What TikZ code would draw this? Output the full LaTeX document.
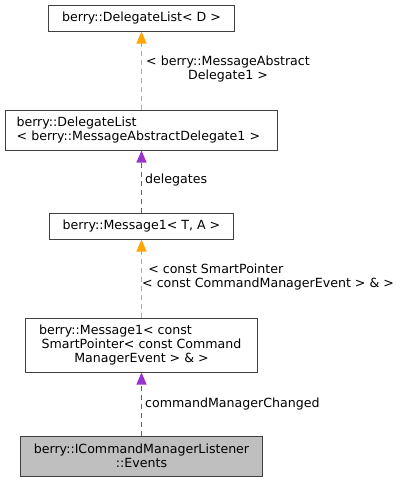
\documentclass[tikz,border=0pt]{standalone}
\usepackage{fontspec}
\setmainfont{DejaVu Sans}
\usetikzlibrary{arrows.meta}
\definecolor{edgeorange}{HTML}{FFA500}
\definecolor{edgepurple}{HTML}{9A32CD}
\definecolor{boxgray}{HTML}{BFBFBF}
\begin{document}
\begin{tikzpicture}[x=1pt, y=-1pt, >={Triangle[length=12pt,width=10pt]},
    font=\fontsize{12.6}{14}\selectfont,
    cls/.style={draw=black!75, line width=1pt, fill=white, inner sep=0pt},
    tmpl/.style={color=edgeorange, dash pattern=on 5pt off 4pt, line width=1.1pt},
    usage/.style={color=edgepurple, dash pattern=on 5pt off 4pt, line width=1.1pt}]
    \useasboundingbox (0,0) rectangle (407,483);
    % class boxes
    \node[cls, minimum width=186pt, minimum height=26pt] (dlD) at (141.5,18) {berry::DelegateList< D >};
    \node[cls, minimum width=272pt, minimum height=40pt, align=left, text width=250pt] (dlM) at (141.5,130)
        {berry::DelegateList\\< berry::MessageAbstractDelegate1 >};
    \node[cls, minimum width=184pt, minimum height=26pt] (msgTA) at (141.5,226) {berry::Message1< T, A >};
    \node[cls, minimum width=232pt, minimum height=54pt, align=center] (msgSP) at (141.5,345)
        {\makebox[205pt][l]{berry::Message1< const}\\SmartPointer< const Command\\ManagerEvent > \& >};
    \node[cls, fill=boxgray, minimum width=242pt, minimum height=40pt, align=center] (events) at (141.5,456)
        {berry::ICommandManagerListener\\::Events};
    % edges
    \draw[tmpl, ->] (dlM.north) -- (dlD.south);
    \draw[usage, ->] (msgTA.north) -- (dlM.south);
    \draw[tmpl, ->] (msgSP.north) -- (msgTA.south);
    \draw[usage, ->] (events.north) -- (msgSP.south);
    % edge labels
    \node[anchor=west, align=center, inner sep=0pt] (lblD) at (146,69) {< berry::MessageAbstract\\Delegate1 >};
    \node[anchor=west, inner sep=0pt] (lblDel) at (145,180) {delegates};
    \node[anchor=west, align=left, inner sep=0pt] (lblSP) at (142,277) {\ \,< const SmartPointer\\< const CommandManagerEvent > \& >};
    \node[anchor=west, inner sep=0pt] (lblCmd) at (145,404) {commandManagerChanged};
\end{tikzpicture}
\end{document}
